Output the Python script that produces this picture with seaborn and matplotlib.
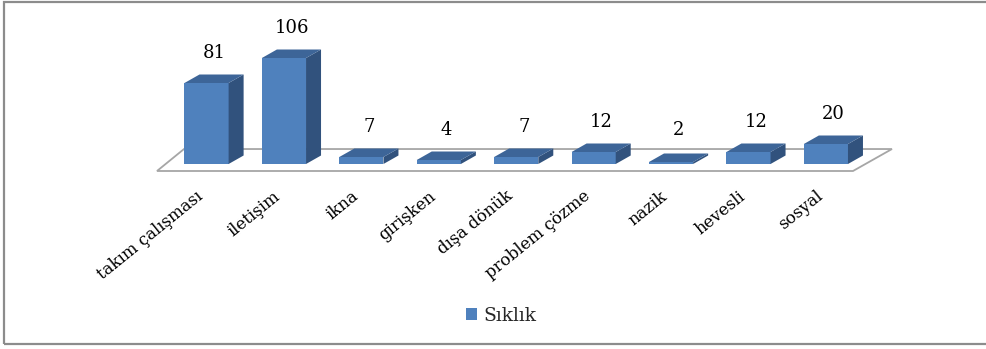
import numpy as np
import pandas as pd
import matplotlib
matplotlib.use("Agg")
import matplotlib.pyplot as plt
import seaborn as sns
from matplotlib.patches import Polygon, Rectangle

# ---- data ----
kategoriler = ["takım çalışması", "iletişim", "ikna", "girişken", "dışa dönük",
               "problem çözme", "nazik", "hevesli", "sosyal"]
degerler = [81, 106, 7, 4, 7, 12, 2, 12, 20]
seri_adi = "Sıklık"

sns.set_theme(style="white")
plt.rcParams["font.family"] = ["DejaVu Serif"]

W, H = 987, 349
fig = plt.figure(figsize=(W / 100, H / 100), dpi=100)
fig.patch.set_facecolor("white")

ax = fig.add_axes([157 / W, 185 / H, 696 / W, 140 / H])
df = pd.DataFrame({"kategori": kategoriler, "deger": degerler,
                   "seri": [seri_adi] * len(degerler)})
sns.barplot(data=df, x="kategori", y="deger", hue="seri", palette=["#4F81BD"],
            saturation=1, width=0.57, dodge=False, ax=ax, linewidth=0, zorder=3)

xmin, xmax = -0.64, 8.35
ax.set_xlim(xmin, xmax)
ax.set_ylim(0, 140)
ax.patch.set_visible(False)
for s in ax.spines.values():
    s.set_visible(False)
ax.set_yticks([])
ax.set_xlabel("")
ax.set_ylabel("")

# floor (decoration)
floor = Polygon([(0, -0.05), (1, -0.05), (1.056, 0.107), (0.0388, 0.107)],
                closed=True, transform=ax.transAxes, facecolor="white",
                edgecolor="#a6a6a6", linewidth=1.3, zorder=1, clip_on=False)
ax.add_patch(floor)

# 3D faces from the bars seaborn drew
px_x = 696 / (xmax - xmin)
px_y = 140 / 140
dx = 15 / px_x
dy = 8.5 / px_y
bars = [p for p in ax.patches if p is not floor]
for p in bars:
    p.set_clip_on(False)
    x0, w, h = p.get_x(), p.get_width(), p.get_height()
    x1 = x0 + w
    top = Polygon([(x0, h), (x1, h), (x1 + dx, h + dy), (x0 + dx, h + dy)],
                  closed=True, facecolor="#3D6598", edgecolor="none", zorder=3,
                  clip_on=False)
    side = Polygon([(x1, 0), (x1 + dx, dy), (x1 + dx, h + dy), (x1, h)],
                   closed=True, facecolor="#31527D", edgecolor="none", zorder=3,
                   clip_on=False)
    ax.add_patch(side)
    ax.add_patch(top)

# value labels
for i, v in enumerate(degerler):
    ax.text(i + 0.1, max(v + 30, 34), str(v), ha="center", va="center",
            fontsize=13, color="black", zorder=5, clip_on=False)

# tick labels
ax.set_xticks(np.arange(len(kategoriler)) - 0.14, kategoriler)
ax.tick_params(axis="x", length=0, pad=17, labelsize=12, labelcolor="black")
for lbl in ax.get_xticklabels():
    lbl.set_rotation(39)
    lbl.set_ha("right")
    lbl.set_va("top")
    lbl.set_rotation_mode("anchor")

# legend
sns.move_legend(ax, "center", bbox_to_anchor=(501 / W, 1 - 316 / H),
                bbox_transform=fig.transFigure, frameon=False, title=None,
                fontsize=13.5, handlelength=0.62, handleheight=0.62,
                handletextpad=0.3)

# outer frame
fig.patches.append(Rectangle((4.5 / W, 5 / H), 1.2, (H - 7) / H,
                             transform=fig.transFigure, facecolor="none",
                             edgecolor="#8c8c8c", linewidth=1.6))

fig.savefig("out.png", dpi=100)
